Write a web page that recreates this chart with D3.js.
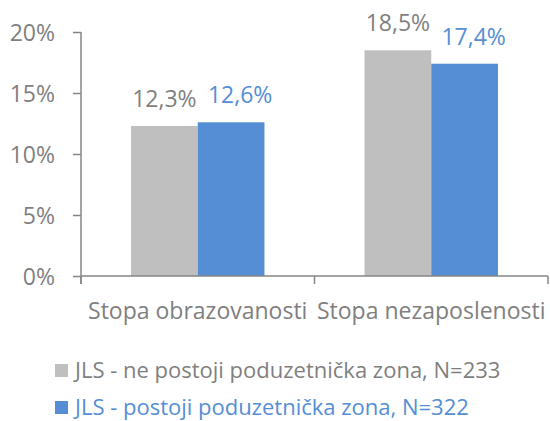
<!DOCTYPE html>
<html>
<head>
<meta charset="utf-8">
<script src="https://cdn.jsdelivr.net/npm/d3@7"></script>
<style>
  body { margin: 0; background: #fff; }
  svg text { font-family: "Open Sans", Lato, sans-serif; }
</style>
</head>
<body>
<svg id="chart" width="550" height="421"></svg>
<script>
const categories = ["Stopa obrazovanosti", "Stopa nezaposlenosti"];
const seriesNames = ["JLS - ne postoji poduzetnička zona, N=233", "JLS - postoji poduzetnička zona, N=322"];
const seriesA = [12.3, 18.5];
const seriesB = [12.6, 17.4];
const valueLabelsA = ["12,3%", "18,5%"];
const valueLabelsB = ["12,6%", "17,4%"];
const yTicks = [0, 5, 10, 15, 20];
const colors = ["#BFBFBF", "#558ED5"];
const labelColors = ["#7F7F7F", "#558ED5"];

(function () {
const svg = d3.select("#chart");
const mLeft = 81, mRight = 548, mTop = 32, mBottom = 276;
const axisColor = "#868686";
const fontSize = 23;
const legendFont = 22;
const labelShift = [0, 9];

const x0 = d3.scaleBand().domain(categories).range([mLeft, mRight]).paddingInner(0).paddingOuter(0);
const x1 = d3.scaleBand().domain([0, 1]).range([0, x0.bandwidth()]).paddingInner(0).paddingOuter(0.75);
const y = d3.scaleLinear().domain([0, 20]).range([mBottom, mTop]);

// y axis
const yAxis = d3.axisLeft(y).tickValues(yTicks).tickFormat(d => d + "%").tickSize(8).tickPadding(18);
const gy = svg.append("g").attr("transform", `translate(${mLeft},0)`).call(yAxis);
gy.select(".domain").remove();
gy.selectAll(".tick line").attr("stroke", axisColor).attr("stroke-width", 1.5);
gy.selectAll(".tick text").attr("fill", "#7F7F7F").attr("font-family", null).attr("font-size", null)
  .style("font-size", fontSize + "px").attr("dy", "0.35em");
svg.append("line").attr("x1", mLeft).attr("x2", mLeft).attr("y1", mTop).attr("y2", mBottom + 8)
  .attr("stroke", axisColor).attr("stroke-width", 1.5);

const data = categories.map((c, i) => ({ cat: c, vals: [seriesA[i], seriesB[i]], labs: [valueLabelsA[i], valueLabelsB[i]] }));

// bars
const groups = svg.append("g").selectAll("g").data(data).join("g")
  .attr("transform", d => `translate(${x0(d.cat)},0)`);
groups.selectAll("rect").data(d => d.vals.map((v, k) => ({ v, k }))).join("rect")
  .attr("x", d => x1(d.k)).attr("width", x1.bandwidth())
  .attr("y", d => y(d.v)).attr("height", d => mBottom - y(d.v))
  .attr("fill", d => colors[d.k]);
groups.selectAll("text").data(d => d.vals.map((v, k) => ({ v, k, lab: d.labs[k] }))).join("text")
  .attr("x", d => x1(d.k) + x1.bandwidth() / 2 + labelShift[d.k])
  .attr("y", d => y(d.v) - 19)
  .attr("text-anchor", "middle")
  .attr("fill", d => labelColors[d.k])
  .style("font-size", fontSize + "px")
  .text(d => d.lab);

// x axis
svg.append("line").attr("x1", mLeft).attr("x2", mRight).attr("y1", mBottom).attr("y2", mBottom)
  .attr("stroke", axisColor).attr("stroke-width", 1.5);
const xTickPos = [mLeft, ...categories.map(c => x0(c) + x0.bandwidth())];
svg.append("g").selectAll("line").data(xTickPos).join("line")
  .attr("x1", d => d).attr("x2", d => d).attr("y1", mBottom).attr("y2", mBottom + 8)
  .attr("stroke", axisColor).attr("stroke-width", 1.5);
svg.append("g").selectAll("text").data(categories).join("text")
  .attr("x", d => x0(d) + x0.bandwidth() / 2)
  .attr("y", 319)
  .attr("text-anchor", "middle")
  .attr("fill", "#7F7F7F")
  .style("font-size", fontSize + "px")
  .text(d => d);

// legend
const legend = svg.append("g").selectAll("g").data(seriesNames).join("g")
  .attr("transform", (d, i) => `translate(55,${364 + i * 37})`);
legend.append("rect").attr("width", 13).attr("height", 13).attr("fill", (d, i) => colors[i]);
legend.append("text").attr("x", 20).attr("y", 14)
  .attr("fill", (d, i) => labelColors[i])
  .style("font-size", legendFont + "px")
  .text(d => d);
})();
</script>
</body>
</html>
